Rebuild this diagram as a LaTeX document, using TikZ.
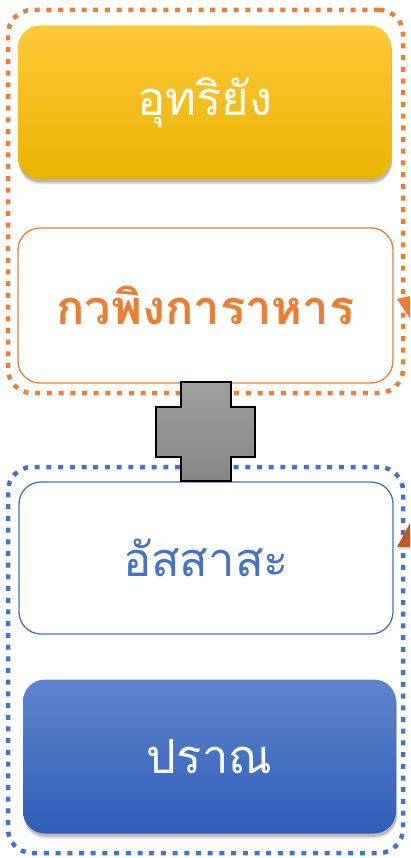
\documentclass[tikz,border=0pt]{standalone}
\usepackage{fontspec}
\newfontfamily\thaifont[Script=Thai]{Loma}
\usetikzlibrary{shadows}
\definecolor{oorange}{HTML}{ED7D31}
\definecolor{oblue}{HTML}{4472C4}
\definecolor{ygold1}{HTML}{FFC83A}
\definecolor{ygold2}{HTML}{E8B500}
\definecolor{bblue1}{HTML}{5F84CB}
\definecolor{bblue2}{HTML}{2E5EBA}
\begin{document}
\begin{tikzpicture}[x=1pt,y=-1pt,
  thai/.style={font=\thaifont\fontsize{47}{56}\selectfont},
  thaibold/.style={font=\thaifont\bfseries\fontsize{47}{56}\selectfont},
  boxbase/.style={rounded corners=22pt, minimum width=373pt, minimum height=154pt, inner sep=0pt},
  filledbox/.style={boxbase,
    drop shadow={shadow xshift=1pt, shadow yshift=-3pt, opacity=0.18, fill=black},
    drop shadow={shadow xshift=1pt, shadow yshift=-5pt, opacity=0.12, fill=black}},
  outlinebox/.style={boxbase, draw, line width=1.3pt, fill=white},
  dotframe/.style={draw, line width=4.5pt, dash pattern=on 5pt off 6.7pt, rounded corners=24pt, minimum width=395pt, inner sep=0pt},
]
\useasboundingbox (0,0) rectangle (410,858);
% frames
\node[dotframe, draw=oorange, minimum height=383pt] (fo) at (205.5,201.5) {};
\node[dotframe, draw=oblue, minimum height=386pt] (fb) at (205.5,660) {};
% boxes
\node[filledbox, top color=ygold1, bottom color=ygold2, text=white, thai] (a) at (204.5,102.5) {อุทริยัง};
\node[outlinebox, draw=oorange, text=oorange, thaibold, minimum width=375pt, minimum height=155pt] (b) at (205.5,305.5) {กวพิงการาหาร};
\node[outlinebox, draw=oblue, text=oblue, thai, minimum width=374pt, minimum height=152pt] (c) at (206,558) {อัสสาสะ};
\node[filledbox, top color=bblue1, bottom color=bblue2, text=white, thai] (d) at (209.5,756.5) {ปราณ};
% plus sign
\draw[black, line width=1.2pt, top color=gray!75, bottom color=gray!95!black!90]
  (181,382) -- (231,382) -- (231,407) -- (255,407) -- (255,457) -- (231,457) -- (231,481)
  -- (181,481) -- (181,457) -- (156,457) -- (156,407) -- (181,407) -- cycle;
% partial arrow heads at the right edge
\fill[black, opacity=0.15] (399,302) -- (410,299) -- (410,321) -- cycle;
\fill[oorange] (397,299) -- (410,296) -- (410,318) -- cycle;
\fill[black, opacity=0.15] (399,549) -- (410,527) -- (410,549) -- cycle;
\fill[oorange!90!red!80!black] (397,547) -- (410,523) -- (410,547) -- cycle;
\end{tikzpicture}
\end{document}
